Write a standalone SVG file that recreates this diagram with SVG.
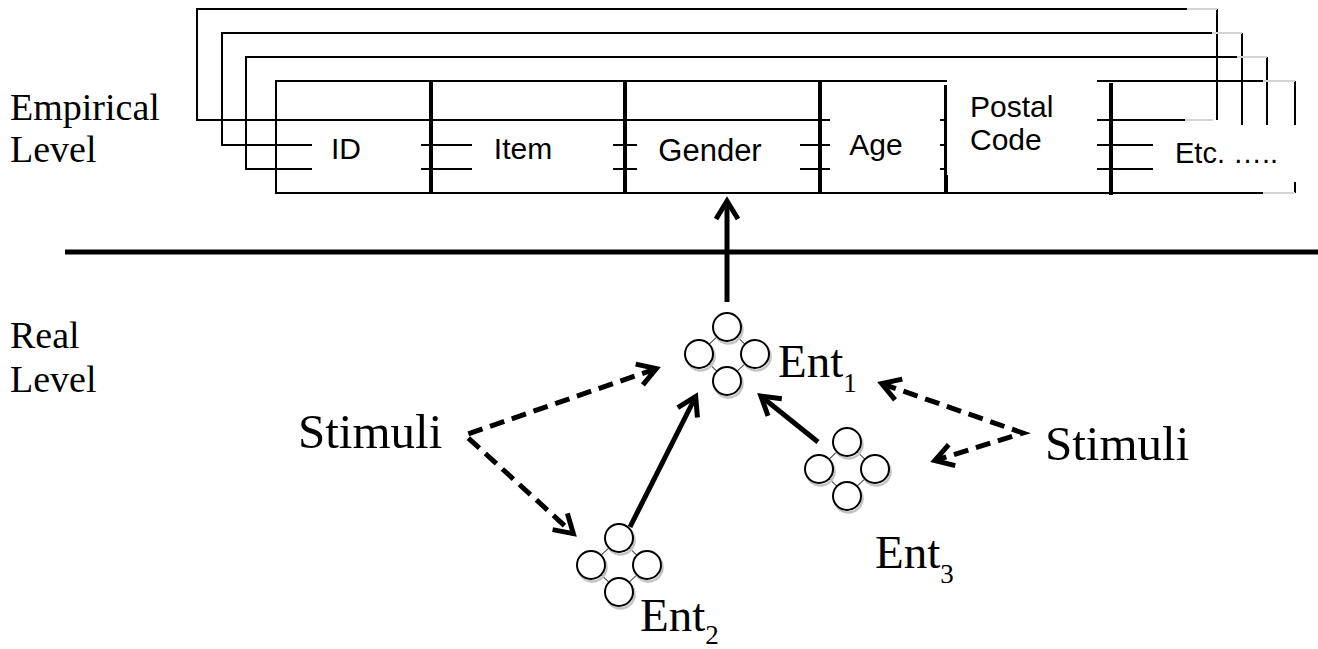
<svg xmlns="http://www.w3.org/2000/svg" xmlns:xlink="http://www.w3.org/1999/xlink" width="1318" height="649" viewBox="0 0 1318 649">
<style>
.fr{stroke:#000;stroke-width:2;fill:none}
.lt{stroke:#d4d4d4;stroke-width:2;fill:none}
.dv{stroke:#000;stroke-width:4;fill:none}
.wb{fill:#fff;stroke:none}
.cell{font-family:"Liberation Sans",Arial,sans-serif;font-size:30px;fill:#000}
.ser{font-family:"Liberation Serif","Times New Roman",serif;fill:#000}
.c{fill:#fff;stroke:#000;stroke-width:2}
.sh{fill:none;stroke:#c4c4c4;stroke-width:2.5}
.lk{stroke:#000;stroke-width:1;fill:none}
.arr{stroke:#000;stroke-width:5;fill:none;marker-end:url(#ah)}
.dash{stroke-dasharray:15 8;stroke-linejoin:miter;marker-start:url(#ah)}
</style>
<defs>
<marker id="ah" markerUnits="userSpaceOnUse" markerWidth="60" markerHeight="60" refX="0" refY="0" orient="auto-start-reverse" overflow="visible">
<path d="M-18,-11 L0,0 L-18,11" fill="none" stroke="#000" stroke-width="5" stroke-dasharray="none" stroke-linejoin="miter"/>
</marker>
<g id="ent">
<path class="lk" d="M0,0 L-28,27 L0,54 L28,27 Z"/>
<circle class="sh" cx="1.5" cy="2.5" r="14"/>
<circle class="sh" cx="-26.5" cy="29.5" r="14"/>
<circle class="sh" cx="29.5" cy="29.5" r="14"/>
<circle class="sh" cx="1.5" cy="56.5" r="14"/>
<circle class="c" cx="0" cy="0" r="14"/>
<circle class="c" cx="-28" cy="27" r="14"/>
<circle class="c" cx="28" cy="27" r="14"/>
<circle class="c" cx="0" cy="54" r="14"/>
</g>
</defs>
<rect width="1318" height="649" fill="#fff"/>

<g id="table">
<g id="frames">
<path class="fr" d="M1187,9 H197 V120 H1185 M1217,9 V120"/>
<path class="lt" d="M1187,9 H1217 M1185,120 H1213"/>
<path class="fr" d="M1212,33 H222 V145 H1242 M1242,33 V145"/>
<path class="lt" d="M1212,33 H1242"/>
<path class="fr" d="M1237,57 H246 V169 H1267 M1267,57 V169"/>
<path class="lt" d="M1237,57 H1267"/>
<path class="fr" d="M1263,81 H276 V193 H1263 M1295,81 V193"/>
<path class="lt" d="M1263,81 H1295 M1263,193 H1295"/>
</g>
<g id="dividers">
<path class="dv" d="M431,81 V194 M625,81 V194 M820,81 V194 M946,85 V194 M1111,83 V195"/>
</g>
<g id="cell-id">
<rect class="wb" x="312" y="122" width="109" height="66"/>
<text class="cell" x="346" y="159" text-anchor="middle">ID</text>
</g>
<g id="cell-item">
<rect class="wb" x="472" y="122" width="141" height="66"/>
<text class="cell" x="523" y="159" text-anchor="middle">Item</text>
</g>
<g id="cell-gender">
<rect class="wb" x="637" y="122" width="163" height="66"/>
<text class="cell" x="710" y="161" text-anchor="middle" style="font-size:31px">Gender</text>
</g>
<g id="cell-age">
<rect class="wb" x="830" y="100" width="110" height="88"/>
<text class="cell" x="876" y="155" text-anchor="middle">Age</text>
</g>
<g id="cell-postal">
<rect class="wb" x="947" y="79" width="150" height="96"/>
<text class="cell" x="970" y="117">Postal</text>
<text class="cell" x="970" y="150">Code</text>
</g>
<g id="cell-etc">
<rect class="wb" x="1153" y="125" width="150" height="57"/>
<text class="cell" x="1175" y="163" style="font-size:29px">Etc. …..</text>
</g>
</g>

<g id="labels">
<text class="ser" x="10" y="120" font-size="38">Empirical</text>
<text class="ser" x="10" y="162" font-size="38">Level</text>
<text class="ser" x="10" y="348" font-size="38">Real</text>
<text class="ser" x="10" y="392" font-size="38">Level</text>
</g>

<line id="level-divider" x1="65" y1="252" x2="1318" y2="252" stroke="#000" stroke-width="5"/>

<g id="ent1">
<use xlink:href="#ent" x="727" y="327"/>
<text class="ser" x="778" y="377" font-size="47">Ent<tspan font-size="27" dy="15">1</tspan></text>
</g>
<g id="ent2">
<use xlink:href="#ent" x="619" y="538"/>
<text class="ser" x="640" y="631" font-size="47">Ent<tspan font-size="27" dy="13">2</tspan></text>
</g>
<g id="ent3">
<use xlink:href="#ent" x="847" y="442"/>
<text class="ser" x="875" y="568" font-size="47">Ent<tspan font-size="27" dy="15">3</tspan></text>
</g>
<g id="stimuli-left">
<text class="ser" x="298" y="448" font-size="49">Stimuli</text>
</g>
<g id="stimuli-right">
<text class="ser" x="1045" y="460" font-size="49">Stimuli</text>
</g>

<g id="connectors">
<path class="arr" d="M727,302 V201"/>
<path class="arr" d="M630,527 L695.7,396.5"/>
<path class="arr" d="M818,442 L760.9,396.1"/>
<path class="arr dash" d="M656.3,368.6 L465,435 L573.3,533.6"/>
<path class="arr dash" d="M881.7,383.6 L1023,433 L934.8,460.5"/>
</g>
</svg>
